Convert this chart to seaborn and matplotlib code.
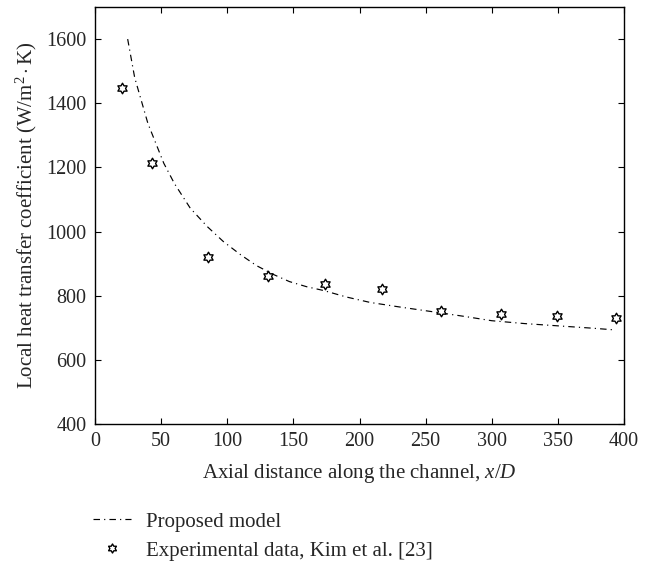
import numpy as np
import pandas as pd
import matplotlib
matplotlib.use("Agg")
import matplotlib.pyplot as plt
from matplotlib.path import Path
from matplotlib.lines import Line2D
import seaborn as sns

# ---- data ----
exp_x = [20.6, 43.4, 85.7, 131.0, 174.2, 217.0, 261.6, 306.8, 349.6, 394.2]
exp_h = [1449, 1213, 922, 860, 837, 821, 751, 743, 738, 732]

model_x = [24.7, 30, 40, 52, 60, 72, 85, 97, 110, 122, 135, 147, 160, 173,
           190, 208, 230, 262, 280, 300, 325, 350, 375, 391]
model_h = [1600, 1480, 1337, 1213, 1150, 1073, 1015, 969, 928, 894, 866, 844,
           828, 816, 796, 779, 765, 746, 735, 722, 713, 706, 699, 694]

x_ticks = [0, 50, 100, 150, 200, 250, 300, 350, 400]
y_ticks = [400, 600, 800, 1000, 1200, 1400, 1600]

sns.set_style("ticks")
plt.rcParams["font.family"] = ["Liberation Serif", "DejaVu Serif"]
plt.rcParams["mathtext.fontset"] = "custom"
plt.rcParams["mathtext.rm"] = "Liberation Serif"
plt.rcParams["mathtext.it"] = "Liberation Serif:italic"
plt.rcParams["xtick.direction"] = "in"
plt.rcParams["ytick.direction"] = "in"

fig = plt.figure(figsize=(6.67, 5.61), dpi=100)
ax = fig.add_axes([95 / 667, 1 - 424 / 561, (624 - 95) / 667, (424 - 7) / 561])

# hexagram outline marker
verts = []
for k in range(12):
    ang = np.pi / 2 + k * np.pi / 6
    r = 1.0 if k % 2 == 0 else 1 / np.sqrt(3)
    verts.append((r * np.cos(ang), r * np.sin(ang)))
verts.append(verts[0])
codes = [Path.MOVETO] + [Path.LINETO] * 11 + [Path.CLOSEPOLY]
star = Path(verts, codes)

dash = (0, (5.5, 3.5, 1, 3.5))
model = pd.DataFrame({"x": model_x, "h": model_h})
exp = pd.DataFrame({"x": exp_x, "h": exp_h})

sns.lineplot(data=model, x="x", y="h", ax=ax, color="black", linewidth=0.85,
             linestyle=dash, sort=False)
sns.scatterplot(data=exp, x="x", y="h", ax=ax, marker=star, s=58,
                facecolor="white", edgecolor="black", linewidth=1.0, zorder=3)

ax.set_xlim(0, 400)
ax.set_ylim(400, 1700)
ax.set_xticks(x_ticks)
ax.set_yticks(y_ticks)
ax.tick_params(axis="both", which="both", top=True, right=True, length=4,
               width=0.8, labelsize=14.5, pad=6, color="black")
for s in ax.spines.values():
    s.set_linewidth(1.0)
    s.set_color("black")

ax.set_xlabel("Axial distance along the channel, $\\it{x/D}$", fontsize=15, labelpad=8)
ax.set_ylabel("Local heat transfer coefficient (W/m$^2\\cdot$K)", fontsize=15, labelpad=5)

handles = [
    Line2D([], [], color="black", linewidth=0.85, linestyle=dash),
    Line2D([], [], color="black", marker=star, markersize=6.5, markerfacecolor="white",
           markeredgewidth=1.0, linestyle="none"),
]
labels = ["Proposed model", "Experimental data, Kim et al. [23]"]
fig.legend(handles, labels, loc="upper left", bbox_to_anchor=(93 / 667, 1 - 512 / 561),
           frameon=False, fontsize=15, handlelength=1.8, handletextpad=0.72,
           labelspacing=0.45, borderaxespad=0, borderpad=0)

fig.savefig("out.png", dpi=100)
